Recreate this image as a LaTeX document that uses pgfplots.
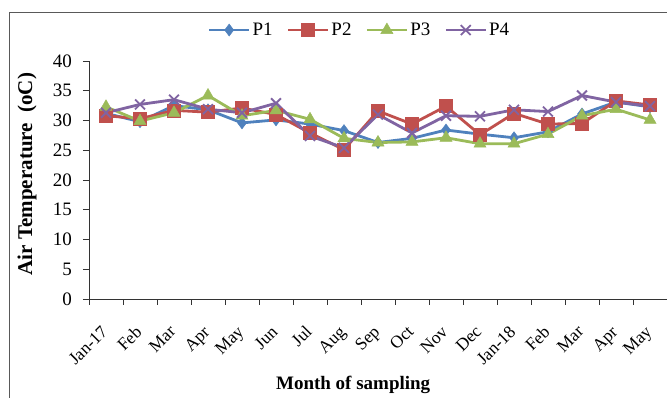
\documentclass[border=0pt]{standalone}
\usepackage{pgfplots}
\pgfplotsset{compat=1.18}
\usepackage{fontspec}
\setmainfont{Liberation Serif}
\definecolor{cP1}{HTML}{4F81BD}
\definecolor{cP2}{HTML}{C0504D}
\definecolor{cP3}{HTML}{9BBB59}
\definecolor{cP4}{HTML}{8064A2}
\begin{document}
\begin{tikzpicture}[x=1pt,y=1pt]
\useasboundingbox (0,0) rectangle (667,398);
\draw[black!65, line width=0.9pt] (9,0) -- (9,385.3) -- (667,385.3);
\begin{axis}[
  at={(89pt,99pt)}, anchor=south west,
  width=578pt, height=238pt, scale only axis,
  xmin=-0.5, xmax=16.5, ymin=0, ymax=40,
  ytick={0,5,...,40},
  xtick={-0.5,0.5,...,16.5}, xticklabels={},
  extra x ticks={0,1,...,16},
  extra x tick labels={Jan-17,Feb,Mar,Apr,May,Jun,Jul,Aug,Sep,Oct,Nov,Dec,Jan-18,Feb,Mar,Apr,May},
  extra x tick style={major tick length=0pt,
    xticklabel style={rotate=45, anchor=north east, inner sep=0pt, xshift=-22pt, yshift=-14pt,
      font=\fontsize{17.5}{19}\selectfont}},
  axis lines=left, axis line style={-, black!80, line width=0.8pt},
  tick align=outside, major tick length=6pt,
  tick style={black!80, line width=0.8pt},
  /pgf/number format/assume math mode=true,
  yticklabel style={anchor=east, inner sep=0pt, xshift=-11pt, font=\fontsize{19}{21}\selectfont},
  xlabel={Month of sampling},
  ylabel={Air Temperature\ \ (oC)},
  label style={font=\bfseries\fontsize{19}{21}\selectfont},
  xlabel style={at={(axis description cs:0.457,0)}, anchor=center, yshift=-86pt},
  ylabel style={at={(axis description cs:-0.1073,0.525)}, anchor=center, font=\bfseries\fontsize{21}{23}\selectfont},
  clip=false,
  legend columns=4,
  legend style={at={(axis description cs:0.468,1.13)}, anchor=center, draw=none, fill=none,
    font=\fontsize{19}{21}\selectfont, /tikz/every even column/.append style={column sep=12pt},
    inner sep=0pt},
  legend image code/.code={\draw[mark repeat=2,mark phase=2] plot coordinates {(0pt,0pt) (20pt,0pt) (40pt,0pt)};},
  every axis plot/.append style={line width=2.8pt},
]
\addplot[cP1, mark=diamond*, mark size=6pt, mark options={solid, line width=0.5pt}] coordinates {
(0,31.2)(1,29.8)(2,32.5)(3,31.8)(4,29.6)(5,30.1)(6,29.4)(7,28.3)(8,26.3)(9,27.0)(10,28.4)(11,27.7)(12,27.1)(13,28.1)(14,31.1)(15,33.1)(16,32.3)};
\addlegendentry{P1}
\addplot[cP2, mark=square*, mark size=6.5pt, mark options={solid, line width=0.5pt}] coordinates {
(0,30.8)(1,30.3)(2,31.7)(3,31.4)(4,32.1)(5,31.0)(6,27.9)(7,25.1)(8,31.6)(9,29.4)(10,32.4)(11,27.6)(12,31.2)(13,29.4)(14,29.5)(15,33.3)(16,32.6)};
\addlegendentry{P2}
\addplot[cP3, mark=triangle*, mark size=7pt, mark options={solid, line width=0.5pt}] coordinates {
(0,32.3)(1,29.9)(2,31.3)(3,34.2)(4,30.8)(5,31.7)(6,30.2)(7,27.0)(8,26.3)(9,26.4)(10,27.1)(11,26.1)(12,26.1)(13,27.7)(14,30.8)(15,31.9)(16,30.1)};
\addlegendentry{P3}
\addplot[cP4, mark=x, mark size=7pt, mark options={solid, line width=1.8pt}] coordinates {
(0,31.3)(1,32.7)(2,33.5)(3,31.9)(4,31.3)(5,32.9)(6,27.4)(7,25.4)(8,31.0)(9,27.9)(10,30.8)(11,30.7)(12,31.8)(13,31.5)(14,34.2)(15,33.1)(16,32.4)};
\addlegendentry{P4}
\end{axis}
\end{tikzpicture}
\end{document}
